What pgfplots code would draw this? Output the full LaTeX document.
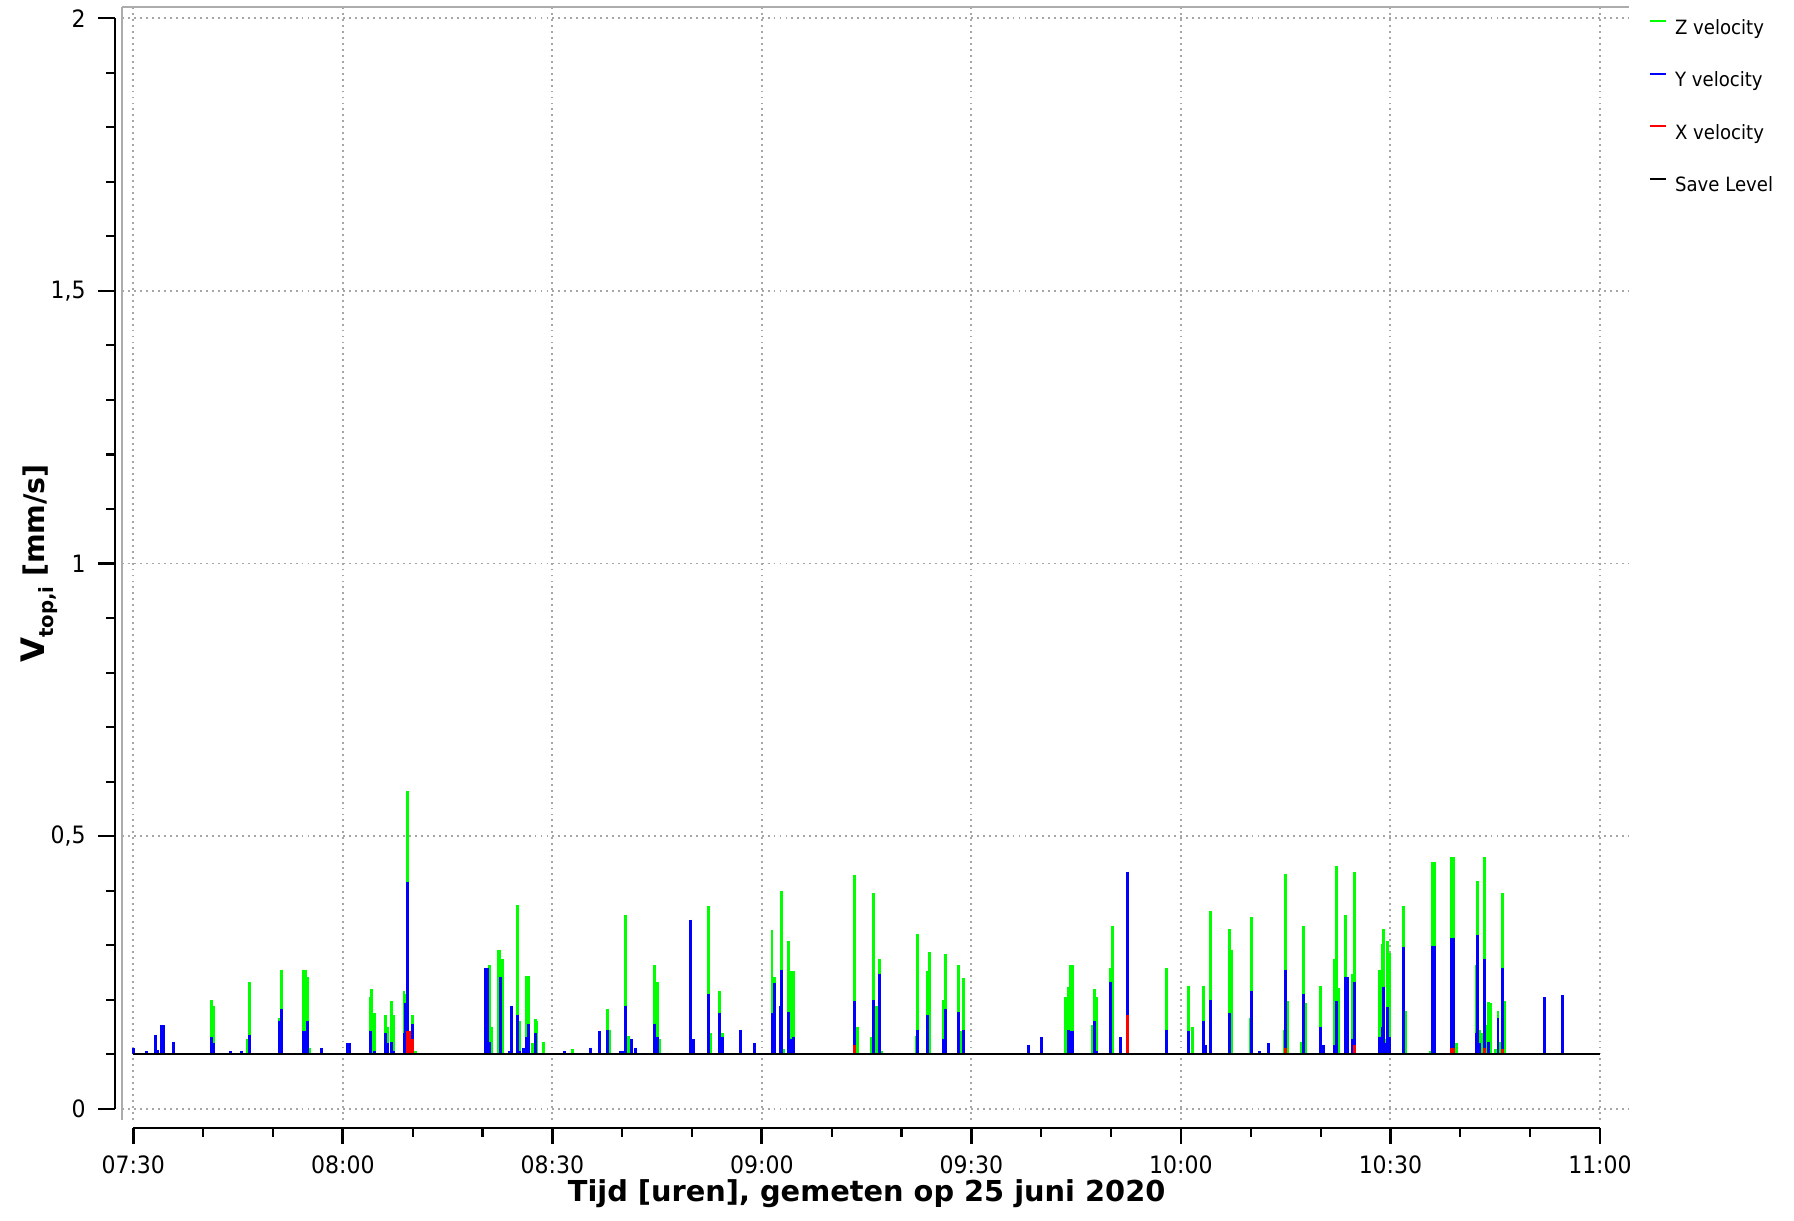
\documentclass[border=0pt]{standalone}
\usepackage{pgfplots}
\usepackage{pgfplotstable}
\pgfplotsset{compat=1.18}
\usepackage{fontspec}
\setmainfont{DejaVu Sans}[FakeStretch=0.92]
\newfontfamily\lblfont{DejaVu Sans}

\pgfplotstableread{
t v
11.17 0.200
11.55 0.189
16.33 0.127
16.66 0.233
20.9 0.167
21.2 0.255
24.35 0.255
24.68 0.255
24.9 0.241
25.2 0.112
33.9 0.204
34.13 0.219
34.5 0.175
36.1 0.171
36.4 0.149
36.9 0.197
37.2 0.171
38.76 0.215
38.95 0.211
39.2 0.582
40.0 0.171
40.4 0.105
51.0 0.263
51.3 0.149
52.27 0.292
52.5 0.292
52.8 0.274
55.0 0.373
55.27 0.160
56.3 0.244
56.6 0.244
57.09 0.120
57.56 0.165
57.8 0.160
58.7 0.123
62.9 0.109
67.9 0.182
68.2 0.145
70.5 0.356
70.9 0.134
74.56 0.263
74.85 0.160
75.1 0.233
75.4 0.127
82.3 0.371
82.6 0.138
83.9 0.215
84.3 0.138
91.45 0.327
91.8 0.241
92.8 0.400
93.1 0.109
93.8 0.307
94.15 0.252
94.5 0.252
103.3 0.429
103.7 0.149
105.7 0.131
106.0 0.395
106.35 0.189
106.8 0.274
107.1 0.105
112.1 0.134
112.3 0.321
113.7 0.252
114.03 0.288
116.0 0.200
116.3 0.283
118.1 0.263
118.6 0.142
118.9 0.239
133.5 0.204
133.88 0.224
134.2 0.263
134.45 0.263
137.3 0.153
137.6 0.219
137.9 0.204
139.95 0.259
140.2 0.336
148.0 0.259
151.1 0.226
151.6 0.150
153.3 0.226
154.3 0.362
157.0 0.329
157.27 0.292
159.9 0.167
160.1 0.351
164.8 0.145
165.0 0.431
165.3 0.197
167.3 0.123
167.6 0.336
167.9 0.193
170.0 0.226
172.0 0.274
172.3 0.446
172.5 0.222
173.6 0.356
174.5 0.248
174.8 0.435
178.5 0.255
178.8 0.303
179.0 0.329
179.3 0.127
179.6 0.307
179.9 0.285
181.9 0.371
182.2 0.180
185.7 0.105
185.95 0.453
186.24 0.453
188.8 0.461
189.1 0.461
189.4 0.120
192.3 0.263
192.5 0.417
192.8 0.145
193.1 0.138
193.4 0.461
193.7 0.153
194.0 0.195
194.3 0.193
195.1 0.109
195.4 0.180
195.7 0.123
196.0 0.395
196.3 0.197
}\zdata

\pgfplotstableread{
t v
0.0 0.112
1.9 0.105
3.2 0.135
3.4 0.108
4.0 0.153
4.35 0.153
5.73 0.123
11.17 0.131
11.55 0.120
13.85 0.106
15.5 0.106
16.66 0.135
20.9 0.160
21.2 0.182
24.35 0.142
24.68 0.142
24.9 0.160
26.97 0.112
30.7 0.120
30.9 0.120
33.9 0.142
34.5 0.105
36.1 0.138
36.4 0.120
36.9 0.123
37.2 0.105
38.76 0.138
38.95 0.193
39.2 0.415
40.0 0.156
50.36 0.259
50.69 0.259
51.0 0.123
52.6 0.241
53.84 0.105
54.1 0.189
55.0 0.171
55.27 0.105
55.8 0.112
56.3 0.131
56.6 0.156
57.56 0.138
61.8 0.105
65.4 0.112
66.7 0.142
67.9 0.145
69.7 0.105
70.2 0.105
70.5 0.189
71.3 0.127
71.9 0.112
74.56 0.156
75.1 0.131
79.85 0.347
80.2 0.127
82.3 0.211
83.9 0.175
84.3 0.131
86.9 0.145
89.0 0.120
91.45 0.175
91.8 0.230
92.6 0.189
92.8 0.255
93.8 0.178
94.15 0.127
94.5 0.131
103.3 0.197
106.0 0.200
106.8 0.248
112.3 0.145
113.7 0.171
116.0 0.127
116.3 0.182
118.1 0.178
118.9 0.145
128.2 0.116
130.1 0.131
133.88 0.145
134.2 0.142
134.45 0.142
137.6 0.160
137.9 0.106
139.95 0.233
141.3 0.131
142.4 0.435
148.0 0.145
151.1 0.142
153.3 0.160
153.5 0.116
154.3 0.200
157.0 0.175
160.1 0.215
161.3 0.106
162.6 0.120
165.0 0.255
167.6 0.211
170.0 0.149
170.4 0.116
172.0 0.116
172.3 0.197
173.6 0.241
173.85 0.241
174.5 0.127
174.8 0.233
178.5 0.131
178.8 0.150
179.0 0.224
179.3 0.120
179.6 0.186
179.9 0.131
181.9 0.297
185.95 0.299
186.24 0.299
188.8 0.314
189.1 0.314
192.3 0.138
192.5 0.318
192.8 0.120
193.4 0.274
194.0 0.123
195.4 0.167
196.0 0.259
202.0 0.204
204.6 0.209
}\ydata

\pgfplotstableread{
t v
39.2 0.142
39.5 0.142
40.0 0.127
103.3 0.116
142.4 0.171
165.0 0.112
174.8 0.116
188.8 0.112
189.1 0.112
193.4 0.112
196.0 0.109
}\xdata

\pgfplotsset{
  spike/.style={draw=none, mark=none,
    error bars/.cd, y dir=minus, y explicit, error mark=none,
    error bar style={draw=#1, line width=0.85pt}},
  common/.style={anchor=origin, at={(0,0)}, x=0.06984cm, y=5.452cm, scale only axis},
}

\begin{document}
\begin{tikzpicture}
\useasboundingbox (-1.333,-1.113) rectangle (16.607,11.087);

% main plotting area
\begin{axis}[common,
  xmin=-1.575, xmax=214.2, ymin=-0.021, ymax=2.02,
  axis x line*=top, axis y line*=left,
  axis line style={draw=gray!65, line width=0.6pt},
  xtick={0,30,...,210}, ytick={0,0.5,...,2},
  xticklabels={}, yticklabels={},
  major tick length=0pt,
  grid=major,
  major grid style={draw=gray!70, line width=0.55pt, dash pattern=on 0.55pt off 1.15pt},
  clip=false,
  legend style={at={(axis description cs:1.0126,0.991)}, anchor=north west,
    draw=none, fill=none, inner sep=0pt,
    font=\fontsize{5.6}{6.7}\selectfont,
    row sep=0.325cm, column sep=0.08cm,
    nodes={inner sep=0pt, text height=0.16cm, text depth=0.04cm}},
  legend cell align=left,
]
\addplot[legend image code/.code={\draw[green, line width=0.6pt] (0cm,0.07cm) -- (0.16cm,0.07cm);},
  spike=green]
  table[x=t, y=v, y error minus expr={\thisrow{v}-0.1}] {\zdata};
\addlegendentry{Z velocity}
\addplot[legend image code/.code={\draw[blue, line width=0.6pt] (0cm,0.07cm) -- (0.16cm,0.07cm);},
  spike=blue]
  table[x=t, y=v, y error minus expr={\thisrow{v}-0.1}] {\ydata};
\addlegendentry{Y velocity}
\addplot[legend image code/.code={\draw[red, line width=0.6pt] (0cm,0.07cm) -- (0.16cm,0.07cm);},
  spike=red]
  table[x=t, y=v, y error minus expr={\thisrow{v}-0.1}] {\xdata};
\addlegendentry{X velocity}
\addplot[black, line width=0.65pt, mark=none,
  legend image code/.code={\draw[black, line width=0.6pt] (0cm,0.07cm) -- (0.16cm,0.07cm);}]
  coordinates {(0,0.1) (210,0.1)};
\addlegendentry{Save Level}
\end{axis}

% detached y axis
\begin{axis}[common,
  xmin=-2.62, xmax=0, ymin=0, ymax=2,
  axis y line*=left, hide x axis,
  ytick={0,0.5,...,2}, minor y tick num=4,
  tick align=outside, major tick length=0.17cm, minor tick length=0.09cm,
  axis line style={black, line width=0.6pt},
  tick style={black, line width=0.6pt},
  /pgf/number format/use comma,
  /pgf/number format/assume math mode=true,
  /pgf/number format/1000 sep={},
  yticklabel style={font=\fontsize{6.8}{8}\selectfont},
  ylabel={\lblfont\bfseries{\fontsize{9.2}{10}\selectfont V}\raisebox{-0.45ex}{\fontsize{5.6}{6}\selectfont top,i}\fontsize{8.1}{9}\selectfont\ [mm/s]},
  ylabel style={at={(axis description cs:-4.15,0.5)}, anchor=center},
]
\end{axis}

% detached x axis
\begin{axis}[common,
  xmin=0, xmax=210, ymin=-0.0349, ymax=0,
  axis x line*=bottom, hide y axis,
  xtick={0,30,...,210},
  xticklabels={07:30,08:00,08:30,09:00,09:30,10:00,10:30,11:00},
  minor x tick num=2,
  tick align=outside, major tick length=0.16cm, minor tick length=0.09cm,
  axis line style={black, line width=0.6pt},
  major tick style={black, line width=0.8pt},
  minor tick style={black, line width=0.6pt},
  xticklabel style={font=\fontsize{6.8}{8}\selectfont},
  xlabel={\lblfont\bfseries\fontsize{8.2}{9}\selectfont Tijd [uren], gemeten op 25 juni 2020},
  xlabel style={at={(axis description cs:0.5,-3.9)}, anchor=base},
]
\end{axis}
\end{tikzpicture}
\end{document}
